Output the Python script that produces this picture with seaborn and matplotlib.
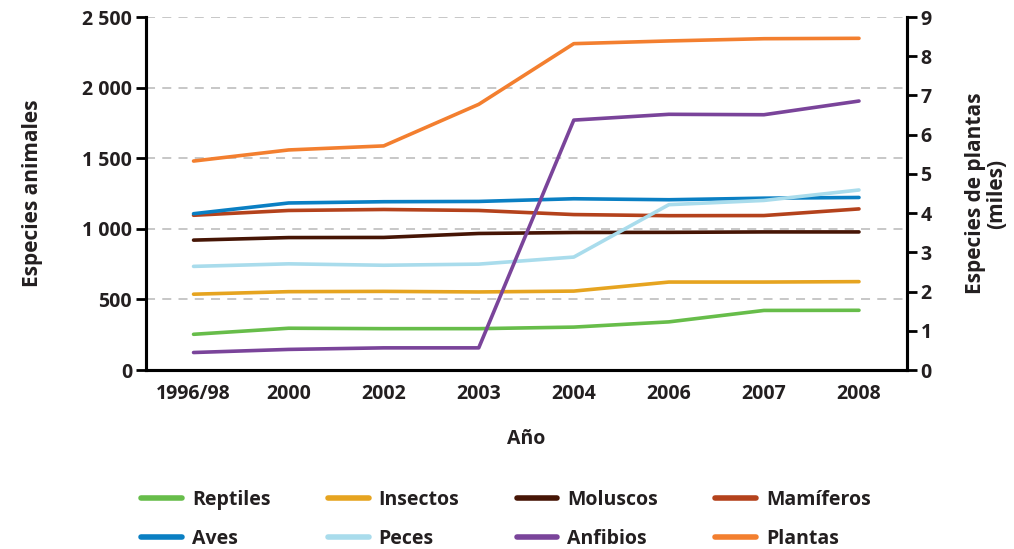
import matplotlib
matplotlib.use("Agg")
import matplotlib.pyplot as plt
from matplotlib.lines import Line2D
from matplotlib.ticker import FuncFormatter
import seaborn as sns
import pandas as pd
import numpy as np

# data (especies amenazadas, lista roja)
years = ['1996/98', '2000', '2002', '2003', '2004', '2006', '2007', '2008']
reptiles = [253, 296, 293, 293, 304, 341, 422, 423]
insectos = [537, 555, 557, 553, 559, 623, 623, 626]
moluscos = [920, 938, 939, 967, 974, 975, 978, 978]
mamiferos = [1096, 1130, 1137, 1130, 1101, 1093, 1094, 1141]
aves = [1107, 1183, 1192, 1194, 1213, 1206, 1217, 1222]
peces = [734, 752, 742, 750, 800, 1171, 1201, 1275]
anfibios = [124, 146, 157, 157, 1770, 1811, 1808, 1905]
plantas = [5.328, 5.611, 5.714, 6.774, 8.321, 8.390, 8.447, 8.457]  # miles

colors = {
    'Reptiles': '#67bd4a',
    'Insectos': '#e6a420',
    'Moluscos': '#461505',
    'Mamíferos': '#b4421c',
    'Aves': '#0a7fc3',
    'Peces': '#a9dcec',
    'Anfibios': '#7a449a',
    'Plantas': '#f37f2f',
}

animal_series = {
    'Reptiles': reptiles, 'Insectos': insectos, 'Moluscos': moluscos,
    'Mamíferos': mamiferos, 'Aves': aves, 'Peces': peces, 'Anfibios': anfibios,
}

rows = []
for name, vals in animal_series.items():
    for i, v in enumerate(vals):
        rows.append({'x': i, 'grupo': name, 'valor': v})
df = pd.DataFrame(rows)
df_pl = pd.DataFrame({'x': range(len(years)), 'valor': plantas})

sns.set_style('white')
plt.rcParams['font.family'] = ['Open Sans', 'DejaVu Sans']
txt = '#231f20'

fig = plt.figure(figsize=(10.14, 5.49), dpi=100)
ax = fig.add_axes([0.144, 0.326, 0.750, 0.643])
ax2 = ax.twinx()

for y in [500, 1000, 1500, 2000, 2500]:
    ax.axhline(y, color='#c3c3c3', lw=1.3, ls=(0, (5, 4)), zorder=0)

sns.lineplot(data=df, x='x', y='valor', hue='grupo', palette=colors,
             hue_order=list(animal_series.keys()), lw=2.6, ax=ax, legend=False)
sns.lineplot(data=df_pl, x='x', y='valor', color=colors['Plantas'], lw=2.6,
             ax=ax2, legend=False)

ax.set_xlim(-0.5, len(years) - 0.5)
ax.set_ylim(0, 2500)
ax2.set_ylim(0, 9)
ax.set_yticks([0, 500, 1000, 1500, 2000, 2500])
ax.yaxis.set_major_formatter(FuncFormatter(lambda v, p: f'{int(v):,}'.replace(',', ' ')))
ax2.set_yticks(range(10))

ax.set_xticks(range(len(years)))
ax.set_xticklabels(years)
ax.set_xticks(np.arange(-0.5, len(years), 1), minor=True)
ax.tick_params(axis='x', which='major', length=0, pad=10, labelsize=14, colors=txt)
ax.tick_params(axis='x', which='minor', length=7, width=2, direction='out', color='black')
ax.tick_params(axis='y', length=7, width=2, direction='out', color='black',
               labelsize=14, colors=txt, pad=3)
ax2.tick_params(axis='y', length=7, width=2, direction='out', color='black',
                labelsize=14, colors=txt, pad=3)
for lab in ax.get_xticklabels() + ax.get_yticklabels() + ax2.get_yticklabels():
    lab.set_fontweight('bold')

for a in (ax, ax2):
    a.spines['top'].set_visible(False)
    for side in ['left', 'right', 'bottom']:
        a.spines[side].set_linewidth(2.2)
        a.spines[side].set_color('black')

ax.set_xlabel('Año', fontsize=14, fontweight='bold', color=txt, labelpad=18)
ax.set_ylabel('Especies animales', fontsize=15, fontweight='bold', color=txt, labelpad=28)
ax2.set_ylabel('Especies de plantas\n(miles)', fontsize=15, fontweight='bold',
               color=txt, labelpad=24, linespacing=1.0)

order = ['Reptiles', 'Aves', 'Insectos', 'Peces', 'Moluscos', 'Anfibios', 'Mamíferos', 'Plantas']
handles = [Line2D([0], [0], color=colors[n], lw=4) for n in order]
leg = fig.legend(handles, order, loc='upper center', bbox_to_anchor=(0.499, 0.14),
                 ncol=4, frameon=False, fontsize=14, handlelength=2.1,
                 columnspacing=2.95, handletextpad=0.5, labelspacing=1.0)
for t in leg.get_texts():
    t.set_fontweight('bold')
    t.set_color(txt)

fig.savefig('out.png', dpi=100)
